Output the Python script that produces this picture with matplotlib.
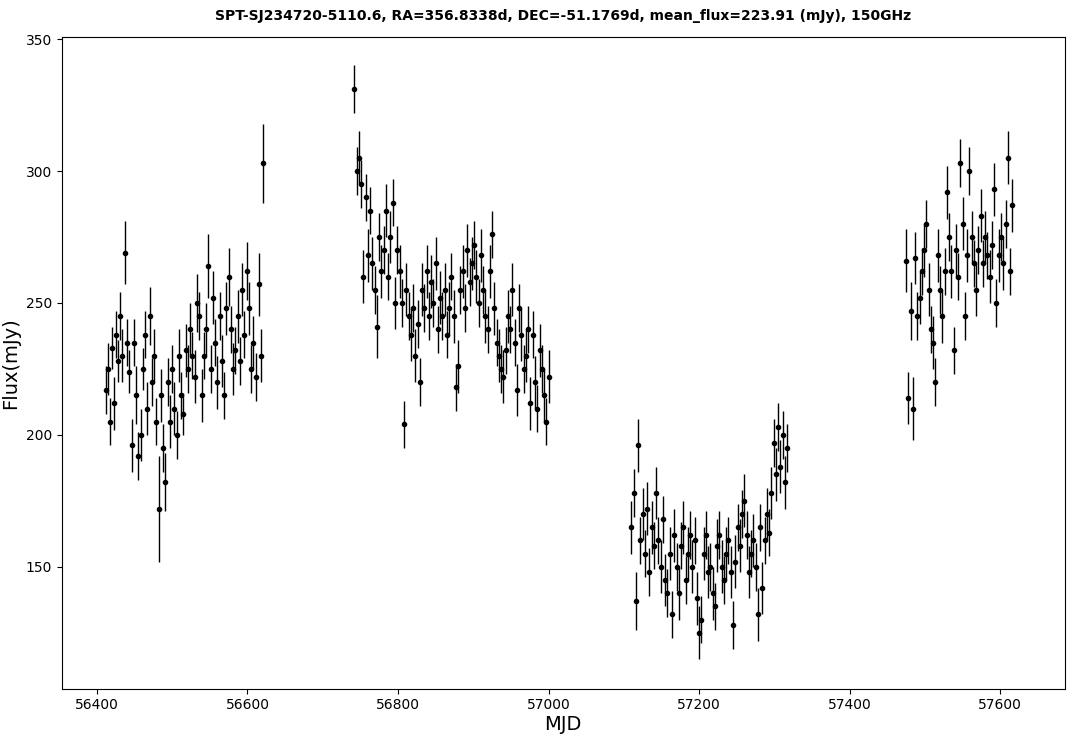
import numpy as np
import matplotlib.pyplot as plt

# (MJD, flux mJy, error mJy), per observing season
season1 = [
    (56412, 217, 9), (56415, 225, 10), (56418, 205, 9), (56420, 233, 8), (56423, 212, 10),
    (56426, 238, 9), (56428, 228, 8), (56431, 245, 9), (56434, 230, 10), (56437, 269, 12),
    (56440, 235, 9), (56443, 224, 8), (56446, 196, 10), (56449, 235, 9), (56452, 215, 11),
    (56455, 192, 9), (56458, 200, 10), (56461, 225, 8), (56464, 238, 9), (56467, 210, 10),
    (56470, 245, 11), (56473, 220, 9), (56476, 230, 10), (56479, 205, 9), (56482, 172, 20),
    (56485, 215, 10), (56488, 195, 9), (56491, 182, 11), (56494, 220, 9), (56497, 205, 10),
    (56500, 225, 9), (56503, 210, 10), (56506, 200, 9), (56509, 230, 10), (56512, 215, 9),
    (56515, 208, 8), (56518, 232, 10), (56521, 225, 9), (56524, 240, 10), (56527, 230, 9),
    (56530, 222, 10), (56533, 250, 11), (56536, 245, 9), (56539, 215, 10), (56542, 230, 9),
    (56545, 240, 10), (56548, 264, 12), (56551, 225, 9), (56554, 252, 10), (56557, 235, 9),
    (56560, 220, 10), (56563, 245, 9), (56566, 228, 10), (56569, 215, 9), (56572, 248, 10),
    (56575, 260, 11), (56578, 240, 9), (56581, 225, 10), (56584, 232, 9), (56587, 245, 10),
    (56590, 228, 9), (56593, 255, 10), (56596, 238, 9), (56599, 262, 11), (56602, 248, 10),
    (56605, 225, 9), (56608, 235, 10), (56611, 222, 9), (56615, 257, 12), (56618, 230, 10),
    (56621, 303, 15),
]
season2 = [
    (56742, 331, 9), (56745, 300, 9), (56748, 305, 10), (56751, 295, 9), (56754, 260, 10),
    (56757, 290, 9), (56760, 268, 10), (56763, 285, 9), (56766, 265, 10), (56769, 255, 9),
    (56772, 241, 12), (56775, 275, 9), (56778, 262, 10), (56781, 270, 9), (56784, 285, 10),
    (56787, 260, 9), (56790, 275, 10), (56793, 288, 9), (56796, 250, 10), (56799, 270, 9),
    (56802, 262, 10), (56805, 250, 9), (56808, 204, 9), (56811, 255, 10), (56814, 245, 9),
    (56817, 238, 10), (56820, 248, 9), (56823, 230, 10), (56826, 242, 9), (56829, 220, 9),
    (56832, 255, 10), (56835, 248, 9), (56838, 262, 10), (56841, 245, 9), (56844, 258, 10),
    (56847, 250, 9), (56850, 265, 10), (56853, 240, 9), (56856, 252, 10), (56859, 245, 9),
    (56862, 255, 10), (56865, 238, 9), (56868, 248, 10), (56871, 260, 9), (56874, 245, 10),
    (56877, 218, 9), (56880, 226, 10), (56883, 255, 9), (56886, 262, 10), (56889, 248, 9),
    (56892, 270, 10), (56895, 258, 9), (56898, 265, 10), (56901, 272, 9), (56904, 260, 10),
    (56907, 250, 9), (56910, 268, 10), (56913, 255, 9), (56916, 245, 10), (56919, 240, 9),
    (56922, 262, 10), (56925, 276, 9), (56928, 248, 10), (56931, 235, 9), (56934, 230, 10),
    (56937, 225, 9), (56940, 222, 10), (56943, 232, 9), (56946, 245, 10), (56949, 240, 9),
    (56952, 255, 10), (56955, 235, 9), (56958, 217, 10), (56961, 248, 9), (56964, 238, 10),
    (56967, 225, 9), (56970, 230, 10), (56973, 240, 9), (56976, 212, 10), (56979, 238, 9),
    (56982, 220, 10), (56985, 210, 9), (56988, 232, 10), (56991, 225, 9), (56994, 215, 10),
    (56997, 205, 9), (57000, 222, 10),
]
season3 = [
    (57110, 165, 10), (57113, 178, 9), (57116, 137, 11), (57119, 196, 10), (57122, 160, 9),
    (57125, 170, 10), (57128, 155, 9), (57131, 172, 10), (57134, 148, 9), (57137, 165, 10),
    (57140, 158, 9), (57143, 178, 10), (57146, 160, 9), (57149, 150, 10), (57152, 168, 9),
    (57155, 145, 10), (57158, 140, 9), (57161, 155, 10), (57164, 132, 9), (57167, 162, 10),
    (57170, 150, 9), (57173, 140, 10), (57176, 158, 9), (57179, 165, 10), (57182, 145, 9),
    (57185, 155, 10), (57188, 162, 9), (57191, 150, 10), (57194, 160, 9), (57197, 138, 10),
    (57200, 125, 10), (57203, 130, 9), (57206, 155, 10), (57209, 162, 9), (57212, 148, 10),
    (57215, 150, 9), (57218, 140, 10), (57221, 135, 9), (57224, 158, 10), (57227, 162, 9),
    (57230, 150, 10), (57233, 145, 9), (57236, 155, 10), (57239, 160, 9), (57242, 148, 10),
    (57245, 128, 9), (57248, 152, 10), (57251, 165, 9), (57254, 158, 10), (57257, 170, 9),
    (57260, 175, 10), (57263, 162, 9), (57266, 148, 10), (57269, 155, 9), (57272, 160, 10),
    (57275, 150, 9), (57278, 132, 10), (57281, 165, 9), (57284, 142, 10), (57287, 160, 9),
    (57290, 170, 10), (57293, 163, 9), (57296, 178, 10), (57299, 197, 9), (57302, 185, 10),
    (57305, 203, 9), (57308, 188, 10), (57311, 200, 9), (57314, 182, 10), (57317, 195, 9),
]
season4 = [
    (57475, 266, 12), (57478, 214, 10), (57481, 247, 11), (57484, 210, 12), (57487, 267, 10),
    (57490, 245, 9), (57493, 252, 10), (57496, 262, 9), (57499, 270, 10), (57502, 280, 9),
    (57505, 255, 10), (57508, 240, 9), (57511, 235, 10), (57514, 220, 9), (57517, 268, 10),
    (57520, 255, 9), (57523, 245, 10), (57526, 262, 9), (57529, 292, 10), (57532, 275, 9),
    (57535, 262, 10), (57538, 232, 9), (57541, 270, 10), (57544, 260, 9), (57547, 303, 9),
    (57550, 280, 10), (57553, 245, 9), (57556, 268, 10), (57559, 300, 9), (57562, 275, 10),
    (57565, 265, 9), (57568, 255, 10), (57571, 270, 9), (57574, 283, 10), (57577, 265, 9),
    (57580, 275, 10), (57583, 268, 9), (57586, 260, 10), (57589, 272, 9), (57592, 293, 10),
    (57595, 250, 9), (57598, 268, 10), (57601, 275, 9), (57604, 265, 10), (57607, 280, 9),
    (57610, 305, 10), (57613, 262, 9), (57616, 287, 10),
]

data = np.array(season1 + season2 + season3 + season4, dtype=float)
mjd, flux, err = data[:, 0], data[:, 1], data[:, 2]

fig, ax = plt.subplots(figsize=(10.79, 7.39), dpi=100)
fig.subplots_adjust(left=0.057, right=0.987, top=0.95, bottom=0.068)

ax.errorbar(mjd, flux, yerr=err, fmt="o", color="black", ms=3, elinewidth=1, capsize=0)

ax.set_xlim(56353, 57686)
ax.set_ylim(103.8, 350.8)
ax.set_xticks([56400, 56600, 56800, 57000, 57200, 57400, 57600])
ax.set_yticks([150, 200, 250, 300, 350])
ax.tick_params(direction="out", labelsize=10)
ax.set_xlabel("MJD", fontsize=14, labelpad=2)
ax.set_ylabel("Flux(mJy)", fontsize=14)
ax.set_title("SPT-SJ234720-5110.6, RA=356.8338d, DEC=-51.1769d, mean_flux=223.91 (mJy), 150GHz",
             fontsize=10, fontweight="bold", pad=12)

fig.savefig("out.png", dpi=100)
